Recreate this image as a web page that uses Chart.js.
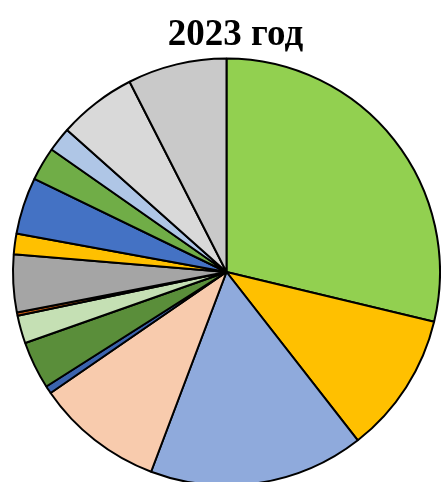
<!DOCTYPE html>
<html>
<head>
<meta charset="utf-8">
<script src="https://cdn.jsdelivr.net/npm/chart.js@4.4.1/dist/chart.umd.min.js"></script>
<style>
html,body{margin:0;padding:0;background:#fff;overflow:hidden;}
#wrap{position:relative;width:441px;height:492px;}
</style>
</head>
<body>
<div id="wrap"><canvas id="c" width="441" height="492"></canvas></div>
<script>
const titleText = '2023 год';
const categories = ['s1','s2','s3','s4','s5','s6','s7','s8','s9','s10','s11','s12','s13','s14','s15'];
const values = [28.75, 10.71, 16.29, 9.67, 0.58, 3.61, 2.11, 0.25, 4.36, 1.56, 4.31, 2.53, 1.86, 5.92, 7.5];
const colors = ['#92D050','#FFC000','#8FAADC','#F8CBAD','#3B63AD','#5A8E3A','#C5E0B4','#C55A11','#A5A5A5','#FFC000','#4472C4','#70AD47','#AFC6E6','#D9D9D9','#C9C9C9'];

const titlePlugin = {
  id: 'refTitle',
  afterDraw(chart) {
    const ctx = chart.ctx;
    ctx.save();
    ctx.fillStyle = '#000';
    ctx.font = 'bold 37px "Liberation Serif", "Times New Roman", serif';
    ctx.textAlign = 'center';
    ctx.textBaseline = 'alphabetic';
    ctx.fillText(titleText, 235.5, 45);
    ctx.restore();
  }
};

new Chart(document.getElementById('c'), {
  type: 'pie',
  data: {
    labels: categories,
    datasets: [{
      data: values,
      backgroundColor: colors,
      borderColor: '#000',
      borderWidth: 2
    }]
  },
  options: {
    responsive: false,
    animation: false,
    layout: { padding: { left: 12, right: 0, top: 57, bottom: 5 } },
    plugins: {
      legend: { display: false },
      tooltip: { enabled: false },
      title: { display: false }
    }
  },
  plugins: [titlePlugin]
});
</script>
</body>
</html>
